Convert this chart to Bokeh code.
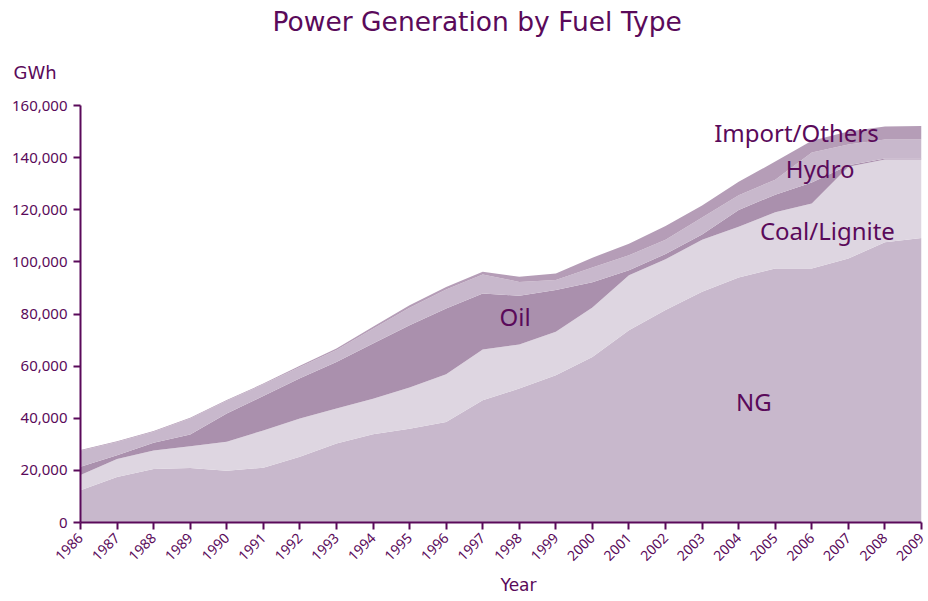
from bokeh.plotting import figure
from bokeh.models import ColumnDataSource, FixedTicker, NumeralTickFormatter, Label, Range1d, Title
from bokeh.embed import file_html
from bokeh.resources import INLINE
import math

# ---- data (GWh) ----
years = list(range(1986, 2010))
ng = [12400, 17500, 20500, 20900, 19900, 21000, 25200, 30300, 33900, 36000, 38600, 46900,
      51400, 56500, 63500, 73800, 81500, 88500, 94000, 97500, 97500, 101300, 107500, 109200]
coal = [5800, 6900, 7100, 8400, 11100, 14300, 14700, 13400, 13600, 15800, 18300, 19500,
        16900, 16700, 19000, 21100, 19500, 20000, 19500, 21500, 24900, 35200, 31800, 30100]
oil = [3200, 1400, 3000, 4500, 10800, 13200, 15400, 17900, 21200, 23900, 25200, 21500,
       18700, 16000, 9700, 1900, 2000, 2000, 6400, 6800, 8100, 600, 400, 400]
hydro = [6100, 5100, 4200, 6100, 4900, 4500, 4400, 4600, 5600, 6700, 7300, 7300,
         5300, 3800, 5600, 5700, 5500, 6500, 5700, 5700, 11500, 7900, 7300, 7300]
imports = [300, 300, 300, 300, 300, 300, 400, 600, 800, 1000, 1000, 1000,
           2000, 2500, 3800, 4500, 5300, 4600, 5100, 7000, 4500, 5000, 4900, 5100]
series_names = ["NG", "Coal/Lignite", "Oil", "Hydro", "Import/Others"]
y_ticks = [0, 20000, 40000, 60000, 80000, 100000, 120000, 140000, 160000]

TXT = "#5a0a5a"
FONT = "Noto Sans"
WIDE = "DejaVu Sans"
colors = ["#c8b8cc", "#ded6e1", "#aa90ad", "#c8b8cc", "#b59db7"]

source = ColumnDataSource(data={
    "year": years,
    "NG": ng,
    "Coal/Lignite": coal,
    "Oil": oil,
    "Hydro": hydro,
    "Import/Others": imports,
})

p = figure(frame_width=841, frame_height=417,
           x_range=Range1d(1986, 2009), y_range=Range1d(0, 160000),
           output_backend="svg", toolbar_location=None,
           min_border_left=80, min_border_right=7, min_border_top=105, min_border_bottom=70)
p.outline_line_color = None
p.xgrid.visible = False
p.ygrid.visible = False
p.background_fill_color = "white"
p.border_fill_color = "white"

p.varea_stack(stackers=series_names, x="year", color=colors, source=source)

for ax in (p.xaxis[0], p.yaxis[0]):
    ax.axis_line_color = TXT
    ax.axis_line_width = 2
    ax.major_tick_line_color = TXT
    ax.major_tick_line_width = 2
    ax.major_tick_out = 7
    ax.major_tick_in = 0
    ax.minor_tick_line_color = None
    ax.major_label_text_color = TXT
    ax.major_label_text_font = FONT

p.xaxis.ticker = FixedTicker(ticks=years)
p.xaxis.major_label_orientation = math.pi / 4
p.xaxis.major_label_text_font_size = "14px"
p.xaxis.major_label_standoff = 6

p.yaxis.ticker = FixedTicker(ticks=y_ticks)
p.yaxis.formatter = NumeralTickFormatter(format="0,0")
p.yaxis.major_label_text_font_size = "15px"
p.yaxis.major_label_standoff = 6

# titles outside the frame (first added sits nearest the frame)
p.add_layout(Title(text="GWh", align="left", offset=-67, standoff=46,
                   text_color=TXT, text_font=WIDE, text_font_size="18px",
                   text_font_style="normal"), "above")
p.add_layout(Title(text="Power Generation by Fuel Type", align="left", offset=192, standoff=0,
                   text_color=TXT, text_font=WIDE, text_font_size="26.5px",
                   text_font_style="normal"), "above")
p.add_layout(Title(text="Year", align="left", offset=420, standoff=13, vertical_align="top",
                   text_color=TXT, text_font=WIDE, text_font_size="17px",
                   text_font_style="normal"), "below")


def add_label(x, y, text, size, align="left"):
    p.add_layout(Label(x=x, y=y, text=text, text_color=TXT, text_font=FONT,
                       text_font_size=size, text_align=align, text_baseline="alphabetic"))


# series labels
add_label(2003.33, 149800, "Import/Others", "24px")
add_label(2005.29, 135900, "Hydro", "24px")
add_label(2004.58, 112000, "Coal/Lignite", "24px")
add_label(2003.93, 46500, "NG", "24px")
add_label(1997.46, 79200, "Oil", "24px")

open("out.html", "w").write(file_html(p, INLINE))
